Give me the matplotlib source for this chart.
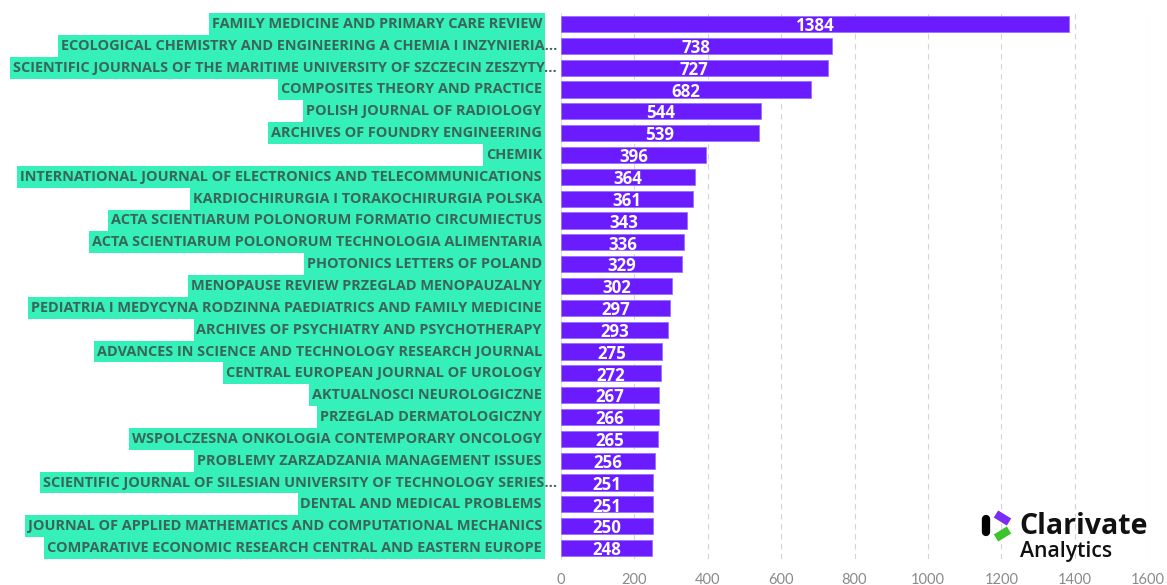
import matplotlib.pyplot as plt
from matplotlib.patches import Rectangle
from matplotlib.lines import Line2D

journals = [
    "FAMILY MEDICINE AND PRIMARY CARE REVIEW",
    "ECOLOGICAL CHEMISTRY AND ENGINEERING A CHEMIA I INZYNIERIA...",
    "SCIENTIFIC JOURNALS OF THE MARITIME UNIVERSITY OF SZCZECIN ZESZYTY...",
    "COMPOSITES THEORY AND PRACTICE",
    "POLISH JOURNAL OF RADIOLOGY",
    "ARCHIVES OF FOUNDRY ENGINEERING",
    "CHEMIK",
    "INTERNATIONAL JOURNAL OF ELECTRONICS AND TELECOMMUNICATIONS",
    "KARDIOCHIRURGIA I TORAKOCHIRURGIA POLSKA",
    "ACTA SCIENTIARUM POLONORUM FORMATIO CIRCUMIECTUS",
    "ACTA SCIENTIARUM POLONORUM TECHNOLOGIA ALIMENTARIA",
    "PHOTONICS LETTERS OF POLAND",
    "MENOPAUSE REVIEW PRZEGLAD MENOPAUZALNY",
    "PEDIATRIA I MEDYCYNA RODZINNA PAEDIATRICS AND FAMILY MEDICINE",
    "ARCHIVES OF PSYCHIATRY AND PSYCHOTHERAPY",
    "ADVANCES IN SCIENCE AND TECHNOLOGY RESEARCH JOURNAL",
    "CENTRAL EUROPEAN JOURNAL OF UROLOGY",
    "AKTUALNOSCI NEUROLOGICZNE",
    "PRZEGLAD DERMATOLOGICZNY",
    "WSPOLCZESNA ONKOLOGIA CONTEMPORARY ONCOLOGY",
    "PROBLEMY ZARZADZANIA MANAGEMENT ISSUES",
    "SCIENTIFIC JOURNAL OF SILESIAN UNIVERSITY OF TECHNOLOGY SERIES...",
    "DENTAL AND MEDICAL PROBLEMS",
    "JOURNAL OF APPLIED MATHEMATICS AND COMPUTATIONAL MECHANICS",
    "COMPARATIVE ECONOMIC RESEARCH CENTRAL AND EASTERN EUROPE",
]
counts = [1384, 738, 727, 682, 544, 539, 396, 364, 361, 343, 336, 329, 302,
          297, 293, 275, 272, 267, 266, 265, 256, 251, 251, 250, 248]
xticks = [0, 200, 400, 600, 800, 1000, 1200, 1400, 1600]

BAR = "#6a1cff"
GREEN = "#35f0b8"
LABEL = "#3a6659"

W, H = 1167, 585
top, bottom = 13, 559
fig = plt.figure(figsize=(W / 100, H / 100), dpi=100)
ax = fig.add_axes([561 / W, 1 - bottom / H, (1148 - 561) / W, (bottom - top) / H])

n = len(journals)
ax.barh(range(n), counts, height=0.74, color=BAR, edgecolor="#9a70ff",
        linewidth=0.6, zorder=3)
ax.set_ylim(n - 0.5, -0.5)
ax.set_xlim(0, 1600)
ax.set_xticks(xticks)
ax.set_yticks([])
ax.grid(axis="x", ls=(0, (5, 4)), color="#d4d4d4", lw=0.8, zorder=0)
for s in ["top", "right", "bottom"]:
    ax.spines[s].set_visible(False)
ax.spines["left"].set_color("#dddddd")
ax.tick_params(axis="x", length=0, pad=10, labelcolor="#8a8a8a", labelsize=10.5)
for lab in ax.get_xticklabels():
    lab.set_family("Lato")

# values inside the bars
for i, c in enumerate(counts):
    ax.text(c / 2, i + 0.1, str(c), ha="center", va="center", color="white",
            fontweight="bold", fontsize=12.2, family="Open Sans", zorder=4)

# journal names with green highlight
row = (bottom - top) / n
texts = []
for i, name in enumerate(journals):
    yc = top + (i + 0.5) * row
    xr = 557 if name.endswith("...") else 542
    t = fig.text(xr / W, 1 - yc / H, name, ha="right", va="center",
                 color=LABEL, fontsize=10.45, fontweight="bold", family="Open Sans",
                 zorder=5)
    texts.append((t, yc))

fig.canvas.draw()
r = fig.canvas.get_renderer()
for t, yc in texts:
    bb = t.get_window_extent(r)
    x0 = bb.x0 - 3
    fig.add_artist(Rectangle((x0 / W, 1 - (yc + row / 2) / H),
                             (545 - x0) / W, row / H, transform=fig.transFigure,
                             facecolor=GREEN, edgecolor="none", zorder=1))

# Clarivate Analytics logo
def seg(p, q, color, cap="butt"):
    fig.add_artist(Line2D([p[0] / W, q[0] / W], [1 - p[1] / H, 1 - q[1] / H],
                          transform=fig.transFigure, color=color, lw=6,
                          solid_capstyle=cap))

seg((986, 519), (986, 532), "black", "round")
seg((996, 514), (1009, 522), "#7b2cf2")
seg((996, 538), (1009, 530), "#3cc42a")
fig.text(1019 / W, 1 - 526 / H, "Clarivate", ha="left", va="center",
         fontsize=20.5, fontweight="bold", family="Open Sans", color="#111111")
fig.text(1020 / W, 1 - 552 / H, "Analytics", ha="left", va="center",
         fontsize=15.3, family="Open Sans", fontweight="semibold", color="#111111")

fig.savefig("out.png", dpi=100)
